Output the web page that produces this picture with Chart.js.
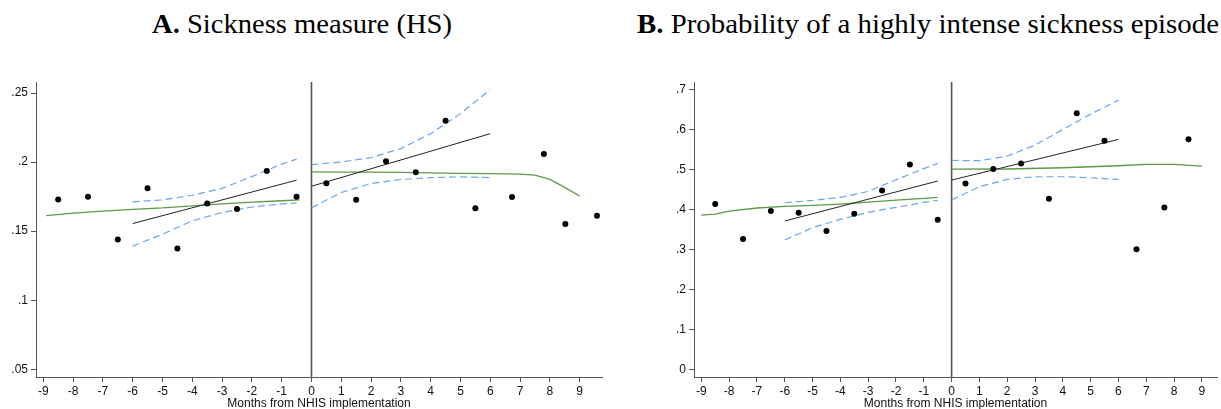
<!DOCTYPE html>
<html><head><meta charset="utf-8">
<script src="https://cdn.jsdelivr.net/npm/chart.js@4.4.1/dist/chart.umd.min.js"></script>
<style>
html,body{margin:0;padding:0;background:#fff;width:1221px;height:409px;overflow:hidden;position:relative}
.box{position:absolute;top:0;height:409px}
.title{position:absolute;top:11px;font-family:"Liberation Serif","Times New Roman",serif;font-size:27px;color:#000;white-space:nowrap;transform-origin:left top;line-height:1}
</style></head><body>
<div class="title" id="tA"><b>A.</b> Sickness measure (HS)</div>
<div class="title" id="tB"><b>B.</b> Probability of a highly intense sickness episode</div>
<div class="box" style="left:0;width:610px"><canvas id="cA" width="610" height="409"></canvas></div>
<div class="box" style="left:610px;width:611px"><canvas id="cB" width="611" height="409"></canvas></div>
<script>
// ---------- Panel A: Sickness measure (HS) ----------
const monthsA = [-8.5,-7.5,-6.5,-5.5,-4.5,-3.5,-2.5,-1.5,-0.5,0.5,1.5,2.5,3.5,4.5,5.5,6.73,7.8,8.52,9.58];
const meansA  = [0.173,0.175,0.144,0.181,0.1375,0.170,0.166,0.1935,0.175,0.1847,0.1727,0.2006,0.1927,0.230,0.1666,0.1748,0.2059,0.1551,0.1611];
const fitPreXA = [-6,-0.5],  fitPreYA = [0.1555,0.1869];
const fitPostXA = [0,6],     fitPostYA = [0.1825,0.2206];
const ciPreXA  = [-6,-5,-4,-3,-2,-1,-0.5];
const ciPreHiA = [0.1712,0.1726,0.1760,0.1810,0.1895,0.1985,0.2022];
const ciPreLoA = [0.1392,0.1478,0.1575,0.1636,0.1675,0.1697,0.1705];
const ciPostXA  = [0,1,2,3,4,5,6];
const ciPostHiA = [0.1982,0.2001,0.2033,0.2098,0.2206,0.2351,0.2525];
const ciPostLoA = [0.1669,0.1780,0.1845,0.1874,0.1888,0.1893,0.1888];
const lowPreXA = [-8.9,-8,-7,-6,-5,-4,-3,-2,-1,-0.4];
const lowPreYA = [0.1613,0.1630,0.1645,0.1658,0.1668,0.1683,0.1697,0.1710,0.1720,0.1727];
const lowPostXA = [0,1,2,3,4,5,6,7,7.5,8,8.5,9];
const lowPostYA = [0.1929,0.1928,0.1927,0.1925,0.1922,0.1919,0.1916,0.1913,0.1906,0.1875,0.1817,0.1755];
const xRangeA = [-9.245, 9.75], yRangeA = [0.0444, 0.258];
const yTicksA = [0.05,0.1,0.15,0.2,0.25], yTickLabelsA = ['.05','.1','.15','.2','.25'];

// ---------- Panel B: Probability of highly intense sickness episode ----------
const monthsB = [-8.5,-7.5,-6.5,-5.5,-4.5,-3.5,-2.5,-1.5,-0.5,0.5,1.5,2.5,3.5,4.5,5.5,6.65,7.65,8.52];
const meansB  = [0.4135,0.3263,0.3961,0.3919,0.3463,0.3894,0.4476,0.5123,0.3745,0.465,0.5007,0.5148,0.4268,0.6402,0.5713,0.3006,0.4052,0.5754];
const fitPreXB = [-6,-0.5],  fitPreYB = [0.3712,0.4709];
const fitPostXB = [0,6],     fitPostYB = [0.4733,0.5747];
const ciPreXB  = [-6,-5,-4,-3,-2,-1,-0.5];
const ciPreHiB = [0.4168,0.4225,0.4300,0.4450,0.4740,0.5020,0.5150];
const ciPreLoB = [0.3239,0.3545,0.3754,0.3928,0.4053,0.4177,0.4227];
const ciPostXB  = [0,1,2,3,4,5,6];
const ciPostHiB = [0.5224,0.5216,0.5331,0.5605,0.5996,0.6378,0.6727];
const ciPostLoB = [0.4235,0.4567,0.4750,0.4816,0.4816,0.4791,0.4750];
const lowPreXB = [-9,-8.5,-8,-7,-6,-5,-4,-3,-2,-1,-0.5];
const lowPreYB = [0.3861,0.3886,0.3960,0.4036,0.4077,0.4100,0.4135,0.4185,0.4235,0.4277,0.4302];
const lowPostXB = [0,2,4,6,7,8,9];
const lowPostYB = [0.5007,0.5010,0.5040,0.5090,0.5124,0.5124,0.5082];
const xRangeB = [-9.264, 9.545], yRangeB = [-0.018, 0.718];
const yTicksB = [0,0.1,0.2,0.3,0.4,0.5,0.6,0.7], yTickLabelsB = ['0','.1','.2','.3','.4','.5','.6','.7'];

const xTicks = [-9,-8,-7,-6,-5,-4,-3,-2,-1,0,1,2,3,4,5,6,7,8,9];
const xTitle = 'Months from NHIS implementation';

const BLUE = '#6aa5f4', GREEN = '#5b9a47', BLACK = '#222', AXIS = '#555';
const zip = (xs, ys) => xs.map((x, i) => ({x, y: ys[i]}));

function lineDs(xs, ys, color, width, dash, order) {
  return {type:'scatter', data: zip(xs, ys), showLine:true, borderColor:color, backgroundColor:color,
    borderWidth:width, borderDash:dash||[], pointRadius:0, pointHoverRadius:0, tension:0, order:order, fill:false};
}

function makeChart(id, cfg) {
  const ds = [
    {type:'scatter', data: zip(cfg.mx, cfg.my), pointRadius:3, pointBackgroundColor:'#000', pointBorderColor:'#000', pointBorderWidth:0, showLine:false, order:0},
    lineDs([0,0], [cfg.yr[0], cfg.yr[1]], AXIS, 1.6, null, 5),
    lineDs(cfg.fpx, cfg.fpy, BLACK, 1, null, 2),
    lineDs(cfg.fqx, cfg.fqy, BLACK, 1, null, 2),
    lineDs(cfg.cpx, cfg.cph, BLUE, 1.2, [7,4], 3),
    lineDs(cfg.cpx, cfg.cpl, BLUE, 1.2, [7,4], 3),
    lineDs(cfg.cqx, cfg.cqh, BLUE, 1.2, [7,4], 3),
    lineDs(cfg.cqx, cfg.cql, BLUE, 1.2, [7,4], 3),
    lineDs(cfg.lpx, cfg.lpy, GREEN, 1.3, null, 4),
    lineDs(cfg.lqx, cfg.lqy, GREEN, 1.3, null, 4)
  ];
  return new Chart(document.getElementById(id), {
    type:'scatter',
    data:{datasets:ds},
    options:{
      responsive:false, animation:false, devicePixelRatio:1,
      layout:{padding:{top:82, right:cfg.padRight, left:0, bottom:0}},
      plugins:{legend:{display:false}, tooltip:{enabled:false}},
      scales:{
        x:{type:'linear', min:cfg.xr[0], max:cfg.xr[1],
          afterBuildTicks: s => { s.ticks = xTicks.map(v => ({value:v})); },
          afterFit: s => { s.height = 32; },
          ticks:{color:'#111', font:{family:'Liberation Sans, Arial, sans-serif', size:12}, padding:2, maxRotation:0, autoSkip:false,
            callback:(v) => (v < 0 ? '-' : '') + Math.abs(v)},
          grid:{display:true, drawOnChartArea:false, drawTicks:true, tickLength:5, color:AXIS, lineWidth:1},
          border:{display:true, color:AXIS, width:1},
          title:{display:true, text:xTitle, color:'#111', font:{family:'Liberation Sans, Arial, sans-serif', size:12, lineHeight:1}, padding:{top:0, bottom:-1}}
        },
        y:{type:'linear', min:cfg.yr[0], max:cfg.yr[1],
          afterBuildTicks: s => { s.ticks = cfg.yt.map(v => ({value:v})); },
          afterFit: s => { s.width = cfg.yw; },
          ticks:{color:'#111', font:{family:'Liberation Sans, Arial, sans-serif', size:12}, padding:3, autoSkip:false,
            callback:(v, i) => cfg.ytl[i]},
          grid:{display:true, drawOnChartArea:false, drawTicks:true, tickLength:5, color:AXIS, lineWidth:1},
          border:{display:true, color:AXIS, width:1}
        }
      }
    }
  });
}

makeChart('cA', {mx:monthsA, my:meansA, fpx:fitPreXA, fpy:fitPreYA, fqx:fitPostXA, fqy:fitPostYA,
  cpx:ciPreXA, cph:ciPreHiA, cpl:ciPreLoA, cqx:ciPostXA, cqh:ciPostHiA, cql:ciPostLoA,
  lpx:lowPreXA, lpy:lowPreYA, lqx:lowPostXA, lqy:lowPostYA, xr:xRangeA, yr:yRangeA, yt:yTicksA, ytl:yTickLabelsA, yw:36, padRight:8});
makeChart('cB', {mx:monthsB, my:meansB, fpx:fitPreXB, fpy:fitPreYB, fqx:fitPostXB, fqy:fitPostYB,
  cpx:ciPreXB, cph:ciPreHiB, cpl:ciPreLoB, cqx:ciPostXB, cqh:ciPostHiB, cql:ciPostLoB,
  lpx:lowPreXB, lpy:lowPreYB, lqx:lowPostXB, lqy:lowPostYB, xr:xRangeB, yr:yRangeB, yt:yTicksB, ytl:yTickLabelsB, yw:84, padRight:0});

// fit titles horizontally to the reference extents
function fitTitle(id, left, width) {
  const el = document.getElementById(id);
  el.style.left = left + 'px';
  const w = el.getBoundingClientRect().width;
  el.style.transform = 'scaleX(' + (width / w) + ')';
}
fitTitle('tA', 152, 300);
fitTitle('tB', 637, 582);
</script>
</body></html>
